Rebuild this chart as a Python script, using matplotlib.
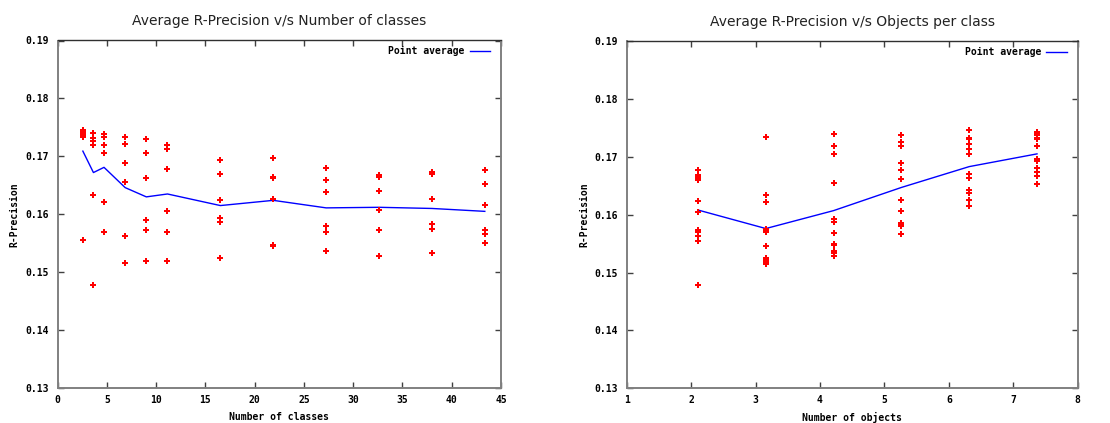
import matplotlib
matplotlib.use("Agg")
import matplotlib.pyplot as plt
import numpy as np

# ---- data -------------------------------------------------------------
num_classes = [2, 3, 4, 6, 8, 10, 15, 20, 25, 30, 35, 40]
class_points = [
    [0.1746, 0.1743, 0.1740, 0.1737, 0.1733, 0.1555],
    [0.1740, 0.1732, 0.1727, 0.1720, 0.1634, 0.1478],
    [0.1739, 0.1733, 0.1719, 0.1706, 0.1622, 0.1569],
    [0.1733, 0.1722, 0.1689, 0.1655, 0.1563, 0.1516],
    [0.1730, 0.1705, 0.1662, 0.1590, 0.1572, 0.1520],
    [0.1720, 0.1713, 0.1678, 0.1606, 0.1570, 0.1520],
    [0.1693, 0.1670, 0.1624, 0.1593, 0.1586, 0.1525],
    [0.1697, 0.1665, 0.1662, 0.1626, 0.1547, 0.1545],
    [0.1680, 0.1659, 0.1638, 0.1580, 0.1569, 0.1536],
    [0.1667, 0.1665, 0.1641, 0.1607, 0.1572, 0.1528],
    [0.1673, 0.1669, 0.1626, 0.1584, 0.1575, 0.1533],
    [0.1677, 0.1653, 0.1616, 0.1573, 0.1566, 0.1550],
]
class_average = [0.1709, 0.1672, 0.1681, 0.1646, 0.1630, 0.1635,
                 0.1615, 0.1624, 0.1611, 0.1612, 0.1610, 0.1605]

num_objects = [2, 3, 4, 5, 6, 7]
object_points = [
    [0.1677, 0.1668, 0.1665, 0.1662, 0.1659, 0.1623,
     0.1605, 0.1573, 0.1570, 0.1563, 0.1555, 0.1478],
    [0.1734, 0.1634, 0.1622, 0.1576, 0.1576, 0.1573,
     0.1570, 0.1545, 0.1525, 0.1521, 0.1518, 0.1514],
    [0.1739, 0.1719, 0.1705, 0.1654, 0.1593, 0.1588,
     0.1569, 0.1550, 0.1547, 0.1537, 0.1534, 0.1528],
    [0.1738, 0.1726, 0.1719, 0.1689, 0.1678, 0.1662,
     0.1625, 0.1607, 0.1586, 0.1583, 0.1580, 0.1566],
    [0.1746, 0.1732, 0.1730, 0.1722, 0.1713, 0.1704,
     0.1670, 0.1663, 0.1642, 0.1637, 0.1626, 0.1615],
    [0.1743, 0.1741, 0.1737, 0.1733, 0.1730, 0.1719,
     0.1697, 0.1693, 0.1680, 0.1673, 0.1667, 0.1653],
]
object_average = [0.1608, 0.1576, 0.1607, 0.1647, 0.1683, 0.1705]

y_ticks = [0.13, 0.14, 0.15, 0.16, 0.17, 0.18, 0.19]
class_ticks = [0, 5, 10, 15, 20, 25, 30, 35, 40, 45]
object_ticks = [1, 2, 3, 4, 5, 6, 7, 8]

# ---- styling ----------------------------------------------------------
MONO = dict(family="DejaVu Sans Mono", weight="bold", size=7)
FRAME = "#808080"
TICK = "#404040"

fig = plt.figure(figsize=(11.1, 4.23), dpi=100)


def panel(rect, xs, pts, avg, data_lim, tick_lim, ticks, title, xlabel, ylab_x):
    ax = fig.add_axes(rect)
    for x, vals in zip(xs, pts):
        ax.plot([x] * len(vals), vals, ls="none", marker="P", ms=3.8,
                mew=0, color="#ff0000", zorder=3)
    ax.plot(xs, avg, color="#0000ff", lw=1.0, label="Point average", zorder=2)

    ax.set_xlim(*data_lim)
    ax.set_ylim(0.13, 0.19)

    # scale shown on the frame (bottom labels, top ticks)
    (d0, d1), (t0, t1) = data_lim, tick_lim

    def fwd(x):
        return t0 + (np.asarray(x) - d0) * (t1 - t0) / (d1 - d0)

    def inv(t):
        return d0 + (np.asarray(t) - t0) * (d1 - d0) / (t1 - t0)

    ax.set_xticks([])
    for side in ("bottom", "top"):
        sec = ax.secondary_xaxis(side, functions=(fwd, inv))
        sec.set_xticks(ticks)
        sec.tick_params(direction="in", length=4, width=1, color=TICK, pad=5)
        sec.spines[side].set_visible(False)
        if side == "top":
            sec.set_xticklabels([])
        else:
            sec.set_xticklabels([str(t) for t in ticks], fontdict=MONO)
            sec.set_xlabel(xlabel, fontdict=MONO, labelpad=5)

    ax.set_yticks(y_ticks)
    ax.set_yticklabels([f"{v:.2f}" for v in y_ticks], fontdict=MONO)
    ax.tick_params(axis="y", direction="in", length=4, width=1, color=TICK,
                   right=True, pad=6)
    ax.set_ylabel("R-Precision", fontdict=MONO)
    ax.yaxis.set_label_coords(ylab_x, 0.5)

    for s in ax.spines.values():
        s.set_color(FRAME)
        s.set_linewidth(1.4)
    ax.spines["top"].set_color("#303030")
    ax.spines["top"].set_linewidth(1.0)

    ax.set_title(title, fontsize=10, color="#222222", pad=11)
    ax.legend(loc="upper right", bbox_to_anchor=(0.9755, 0.983),
              frameon=False, markerfirst=False, prop=MONO,
              handlelength=2.1, handletextpad=0.5,
              borderaxespad=0.0, borderpad=0.0)
    return ax


panel([57.7 / 1110, 35 / 423, 443.3 / 1110, 347.5 / 423],
      num_classes, class_points, class_average,
      data_lim=(-0.378, 41.53), tick_lim=(0, 45), ticks=class_ticks,
      title="Average R-Precision v/s Number of classes",
      xlabel="Number of classes", ylab_x=-0.087)

panel([626.7 / 1110, 34.7 / 423, 451 / 1110, 347.3 / 423],
      num_objects, object_points, object_average,
      data_lim=(0.948, 7.600), tick_lim=(1, 8), ticks=object_ticks,
      title="Average R-Precision v/s Objects per class",
      xlabel="Number of objects", ylab_x=-0.083)

fig.savefig("out.png", dpi=100)
